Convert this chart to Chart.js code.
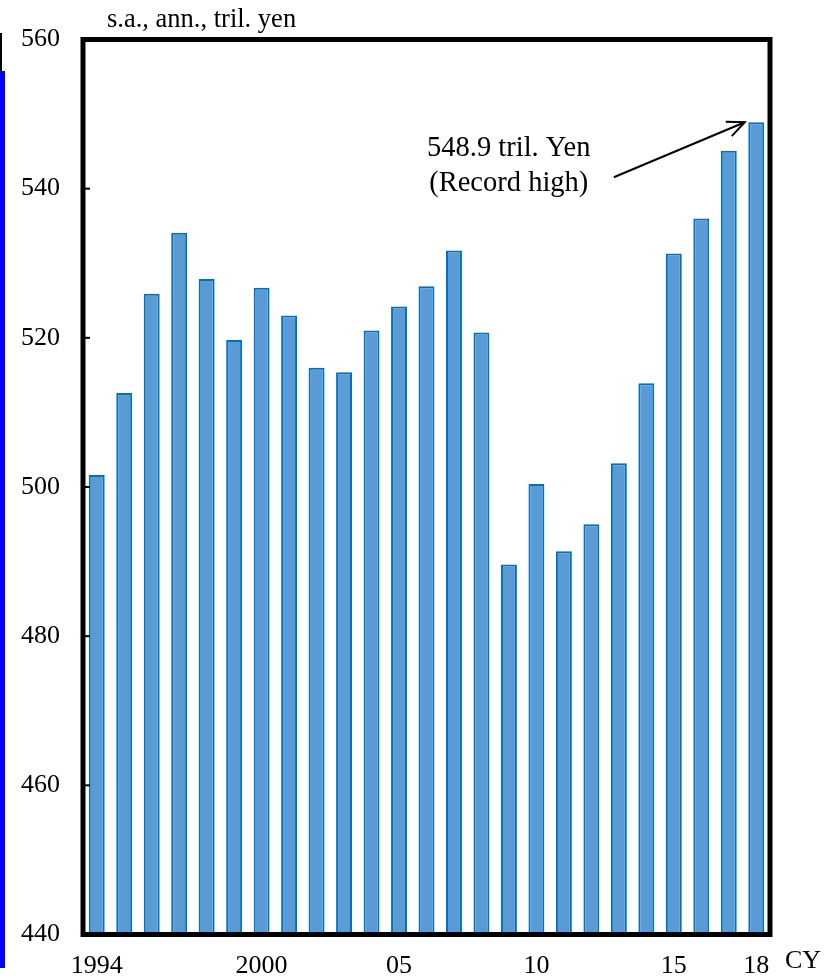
<!DOCTYPE html>
<html>
<head>
<meta charset="utf-8">
<title>Nominal GDP</title>
<script src="https://cdn.jsdelivr.net/npm/chart.js@4/dist/chart.umd.min.js"></script>
<style>
  html, body { margin: 0; padding: 0; background: #fff; }
  #wrap { position: relative; width: 840px; height: 978px; overflow: hidden; }
  #chart { position: absolute; left: 0; top: 0; }
  .edge { position: absolute; }
</style>
</head>
<body>
<div id="wrap">
  <canvas id="chart" width="840" height="978"></canvas>
  <div class="edge" style="left:0;top:33px;width:2px;height:38px;background:#000"></div>
  <div class="edge" style="left:0;top:71px;width:5px;height:897px;background:#0000ff"></div>
</div>
<script>
// Calendar years shown on the category axis
const years = ['1994','1995','1996','1997','1998','1999','2000','2001','2002','2003',
               '2004','2005','2006','2007','2008','2009','2010','2011','2012','2013',
               '2014','2015','2016','2017','2018'];

// Labels printed under the axis (blank = no label for that year)
const xTickLabels = ['1994','','','','','','2000','','','','','05','','','','','10',
                     '','','','','15','','','18'];

// Nominal GDP, s.a., annualized, trillion yen
const gdpValues = [501.6, 512.6, 525.9, 534.1, 527.9, 519.7, 526.7, 523.0, 516.0, 515.4,
                   521.0, 524.2, 526.9, 531.7, 520.7, 489.6, 500.4, 491.4, 495.0, 503.2,
                   513.9, 531.3, 536.0, 545.1, 548.9];

// Value axis range and step
const yRange = [440, 560];
const yStep = 20;

const unitLabel = 's.a., ann., tril. yen';
const yearUnit = 'CY';
const recordIndex = gdpValues.length - 1;
const noteLines = [gdpValues[recordIndex].toFixed(1) + ' tril. Yen', '(Record high)'];

const SERIF = '"Liberation Serif", "Times New Roman", Times, serif';

const decorPlugin = {
  id: 'decor',
  afterDatasetsDraw(chart) {
    const { ctx, chartArea: a, scales: { x, y } } = chart;
    ctx.save();

    // inward tick marks on the value axis
    ctx.strokeStyle = '#000';
    ctx.lineWidth = 2;
    y.ticks.forEach(t => {
      const py = y.getPixelForValue(t.value);
      ctx.beginPath();
      ctx.moveTo(a.left, py);
      ctx.lineTo(a.left + 7, py);
      ctx.stroke();
    });

    // heavy frame around the plot
    ctx.lineWidth = 5;
    ctx.strokeRect(a.left, a.top, a.right - a.left, a.bottom - a.top);

    // unit caption and year marker
    ctx.fillStyle = '#000';
    ctx.font = '26.5px ' + SERIF;
    ctx.textAlign = 'left';
    ctx.textBaseline = 'alphabetic';
    ctx.fillText(unitLabel, a.left + 24, a.top - 13);
    ctx.font = '26px ' + SERIF;
    ctx.textBaseline = 'middle';
    ctx.fillText(yearUnit, a.right + 15, a.bottom + 27);

    // callout for the latest (record) bar
    const tipX = x.getPixelForValue(recordIndex) - 11.5;
    const tipY = y.getPixelForValue(gdpValues[recordIndex]);
    const tailX = tipX - 131, tailY = tipY + 55;
    ctx.lineWidth = 2;
    ctx.beginPath();
    ctx.moveTo(tailX, tailY);
    ctx.lineTo(tipX, tipY);
    ctx.stroke();
    const ang = Math.atan2(tipY - tailY, tipX - tailX);
    const head = 19, spread = 0.42;
    ctx.beginPath();
    ctx.moveTo(tipX - head * Math.cos(ang - spread), tipY - head * Math.sin(ang - spread));
    ctx.lineTo(tipX, tipY);
    ctx.lineTo(tipX - head * Math.cos(ang + spread), tipY - head * Math.sin(ang + spread));
    ctx.stroke();

    ctx.font = '28.5px ' + SERIF;
    ctx.textAlign = 'center';
    ctx.textBaseline = 'alphabetic';
    ctx.fillText(noteLines[0], tipX - 236, tipY + 34);
    ctx.fillText(noteLines[1], tipX - 236, tipY + 69);

    ctx.restore();
  }
};

new Chart(document.getElementById('chart'), {
  type: 'bar',
  data: {
    labels: years,
    datasets: [{
      data: gdpValues,
      backgroundColor: '#5b9bd5',
      borderColor: '#0070c0',
      borderWidth: 2,
      barPercentage: 0.58,
      categoryPercentage: 1.0
    }]
  },
  options: {
    responsive: false,
    animation: false,
    devicePixelRatio: 1,
    layout: { padding: { top: 39.5, right: 70, left: 0, bottom: 0 } },
    plugins: { legend: { display: false }, tooltip: { enabled: false } },
    scales: {
      x: {
        grid: { display: false, drawTicks: false },
        border: { display: false },
        ticks: {
          autoSkip: false,
          maxRotation: 0,
          minRotation: 0,
          padding: 16,
          color: '#000',
          font: { family: SERIF, size: 26 },
          callback: (v, i) => xTickLabels[i]
        },
        afterFit: s => { s.height = 43.5; }
      },
      y: {
        min: yRange[0],
        max: yRange[1],
        grid: { display: false, drawTicks: false },
        border: { display: false },
        ticks: {
          stepSize: yStep,
          padding: 23,
          color: '#000',
          font: { family: SERIF, size: 26 }
        },
        afterFit: s => { s.width = 83; }
      }
    }
  },
  plugins: [decorPlugin]
});
</script>
</body>
</html>
